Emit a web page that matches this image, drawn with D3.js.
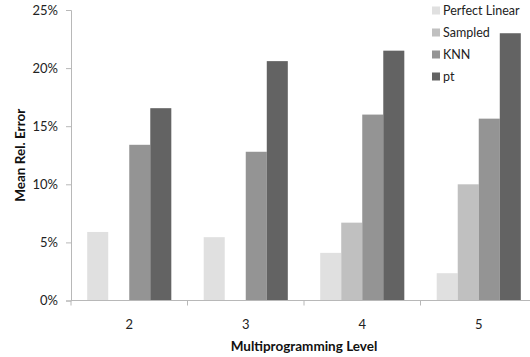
<!DOCTYPE html>
<html><head><meta charset="utf-8">
<script src="https://cdn.jsdelivr.net/npm/d3@7"></script>
<style>body{margin:0;background:#fff}svg{display:block}text{font-family:Lato,"Open Sans",sans-serif}</style>
</head><body>
<svg id="c" width="530" height="357"></svg>
<script>
const categories = ["2","3","4","5"];
const seriesNames = ["Perfect Linear","Sampled","KNN","pt"];
const perfectLinear = [5.9, 5.45, 4.1, 2.35];
const sampled = [0, 0, 6.7, 10.0];
const knn = [13.4, 12.8, 16.0, 15.65];
const pt = [16.55, 20.6, 21.5, 23.0];
const yTicks = [0,5,10,15,20,25];
const colors = ["#e0e0e0","#c0c0c0","#949494","#636363"];
const seriesValues = [perfectLinear, sampled, knn, pt];

(function(){
const svg = d3.select("#c");
const mLeft = 71, mRight = 537, mTop = 10, mBottom = 300.5;
const x = d3.scaleBand().domain(categories).range([mLeft, mRight]).paddingInner(0).paddingOuter(0);
const y = d3.scaleLinear().domain([0,25]).range([mBottom, mTop]);
const inner = d3.scaleBand().domain(seriesNames).range([0, x.bandwidth()]).paddingInner(0).paddingOuter(0.77);

const g = svg.append("g");
categories.forEach((c, ci) => {
  seriesNames.forEach((s, si) => {
    const v = seriesValues[si][ci];
    if (!v) return;
    g.append("rect")
      .attr("x", x(c) + inner(s))
      .attr("width", inner.bandwidth())
      .attr("y", y(v))
      .attr("height", y(0) - y(v))
      .attr("fill", colors[si]);
  });
});

const yAxis = d3.axisLeft(y).tickValues(yTicks).tickFormat(d => d + "%").tickSize(5).tickPadding(8);
const ya = svg.append("g").attr("transform", `translate(${mLeft},0)`).call(yAxis);
ya.select(".domain").attr("stroke", "#b8b8b8");
ya.selectAll(".tick line").attr("stroke", "#b8b8b8");
ya.selectAll(".tick text").attr("font-size", 13).attr("fill", "#222").attr("font-family", "Lato, sans-serif");

const xa = svg.append("g").attr("transform", `translate(0,${mBottom})`);
xa.append("line").attr("x1", mLeft).attr("x2", mRight).attr("stroke", "#b8b8b8");
const bounds = categories.map(c => x(c)).concat([x.range()[1]]);
xa.selectAll(".tk").data(bounds).enter().append("line")
  .attr("x1", d => d).attr("x2", d => d).attr("y1", 0).attr("y2", 5).attr("stroke", "#b8b8b8");
xa.selectAll(".lbl").data(categories).enter().append("text")
  .attr("x", d => x(d) + x.bandwidth()/2).attr("y", 28)
  .attr("text-anchor", "middle").attr("font-size", 13).attr("fill", "#222").text(d => d);

svg.append("text").attr("x", (mLeft + mRight)/2).attr("y", 351).attr("text-anchor", "middle")
  .attr("font-size", 13.5).attr("font-weight", "bold").attr("fill", "#111").text("Multiprogramming Level");
svg.append("text").attr("transform", `translate(25,${(mTop+mBottom)/2}) rotate(-90)`).attr("text-anchor", "middle")
  .attr("font-size", 13.5).attr("font-weight", "bold").attr("fill", "#111").text("Mean Rel. Error");

const lg = svg.append("g");
seriesNames.forEach((s, i) => {
  const cy = 10.5 + i * 22;
  lg.append("rect").attr("x", 432).attr("y", cy - 4).attr("width", 8).attr("height", 8).attr("fill", colors[i]);
  lg.append("text").attr("x", 443).attr("y", cy + 4.5).attr("font-size", 12.5).attr("fill", "#222").text(s);
});
})();
</script>
</body></html>
